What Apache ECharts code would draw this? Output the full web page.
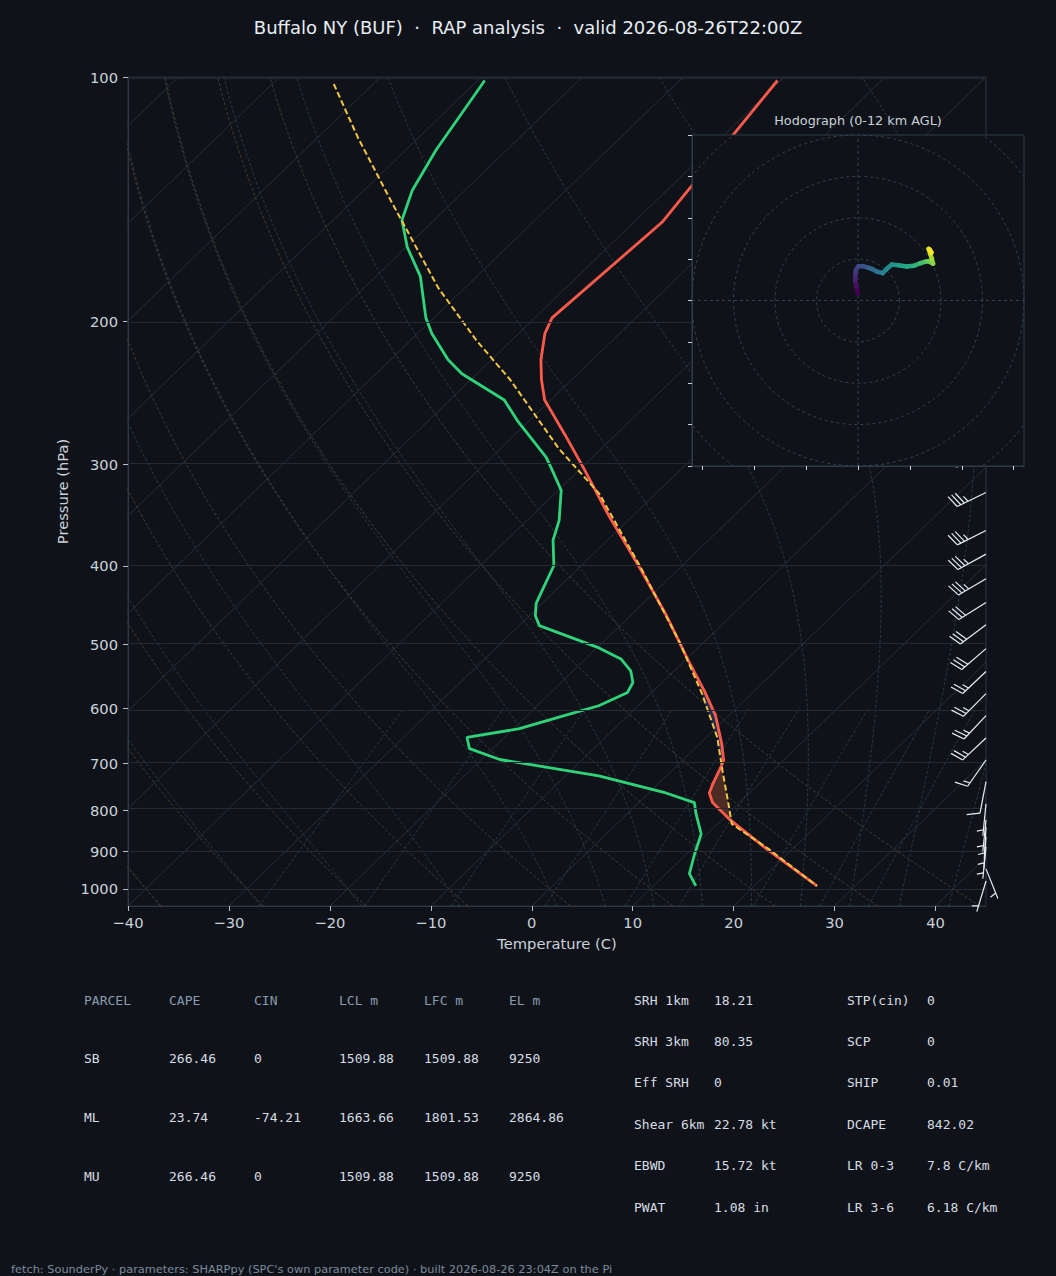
<!DOCTYPE html>
<html lang="en">
<head>
    <meta charset="utf-8">
    <title>Buffalo NY (BUF) RAP sounding</title>
    <style>
        html, body { margin: 0; padding: 0; background: #0f1319; }
        #chart { width: 1056px; height: 1276px; }
    </style>
    <script src="https://cdn.jsdelivr.net/npm/echarts@6/dist/echarts.min.js"></script>
</head>
<body>
    <div id="chart"></div>
    <script type="text/javascript">
        // pressure tick labels (hPa)
        var P_TICKS = [100, 200, 300, 400, 500, 600, 700, 800, 900, 1000];

        // environmental temperature (C)
        var TEMP_P = [101, 151, 198, 207, 223, 236, 250, 276, 303, 347, 400, 461, 524, 570, 612, 663, 695, 705, 742, 762, 783, 820, 893, 992];
        var TEMP_T = [-60.3, -57.2, -58.3, -57.4, -55.1, -53.0, -50.6, -45.0, -39.8, -32.4, -24.3, -16.4, -9.6, -5.0, -1.3, 2.2, 4.1, 4.4, 5.4, 6.0, 7.3, 10.6, 17.4, 26.2];

        // dewpoint (C)
        var DEW_P = [101, 123, 138, 150, 162, 176, 198, 207, 223, 232, 250, 265, 294, 303, 323, 352, 372, 400, 423, 445, 461, 474, 505, 521, 539, 557, 573, 595, 612, 635, 651, 672, 693, 726, 762, 783, 808, 856, 906, 958, 992];
        var DEW_T = [-89.3, -87.0, -85.2, -83.2, -79.9, -75.6, -70.8, -68.6, -64.3, -61.5, -54.6, -51.2, -44.6, -43.0, -39.7, -36.8, -35.4, -32.7, -31.6, -30.6, -29.4, -28.0, -19.8, -16.5, -14.3, -12.9, -12.4, -13.9, -16.3, -19.4, -23.7, -22.3, -18.2, -6.7, 1.7, 5.5, 6.8, 9.4, 10.8, 12.3, 14.2];

        // surface parcel (C)
        var PARCEL_P = [102, 119, 143, 182, 211, 236, 287, 326, 405, 495, 575, 651, 715, 795, 832, 893, 992];
        var PARCEL_T = [-103.9, -95.9, -85.9, -72.6, -63.5, -56.1, -44.2, -35.6, -23.5, -12.6, -4.9, 1.1, 5.0, 9.5, 11.4, 17.6, 26.2];

        // wind barbs (kt)
        var WIND_P = [292, 325, 362, 387, 415, 444, 473, 506, 540, 575, 612, 652, 694, 738, 786, 822, 839, 863, 888, 945, 978];
        var WIND_U = [36, 31, 30, 29, 29, 27, 24, 22, 18, 17, 16, 17, 8.6, 2, 0.5, 0.5, 0.3, 0.4, 0.5, -2, 1.5];
        var WIND_V = [15, 15, 15, 16, 17, 17, 18, 19, 17, 17, 17, 16, 12.3, 10.5, 5, 5, 5.5, 6, 5, 5, 5];

        // hodograph 0-12 km (kt)
        var HODO_U = [-0.1, -0.8, -1.4, -1.3, -1.1, 0.2, 2.5, 4.8, 6.6, 9.0, 11.9, 13.8, 16.3, 19.5, 23.5, 27.0, 30.0, 32.5, 34.0, 36.2, 35.6, 34.8, 34.0, 35.4, 34.6];
        var HODO_V = [3.2, 6.4, 9.7, 12.2, 14.5, 16.6, 16.6, 15.9, 15.3, 14.0, 13.2, 15.2, 17.4, 17.0, 16.4, 16.8, 18.0, 18.8, 19.0, 17.8, 20.2, 22.6, 25.0, 23.2, 24.6];
        var HODO_RINGS = [20, 40, 60, 80, 100];

        // reference lines
        var DRY_T0 = [-40, -30, -20, -10, 0, 10, 20, 30, 40];
        var MOIST_T0 = [-40, -30, -20, -10, 0, 5, 10, 15, 20, 25, 30, 35, 40, 45];
        var MIX_W = [0.0004, 0.001, 0.002, 0.004, 0.007, 0.01, 0.016, 0.024, 0.032];

        // parameter tables
        var PARCEL_HEAD = ["PARCEL", "CAPE", "CIN", "LCL m", "LFC m", "EL m"];
        var PARCEL_ROWS = [
            ["SB", "266.46", "0", "1509.88", "1509.88", "9250"],
            ["ML", "23.74", "-74.21", "1663.66", "1801.53", "2864.86"],
            ["MU", "266.46", "0", "1509.88", "1509.88", "9250"]
        ];
        var PARAM_LEFT = [["SRH 1km", "18.21"], ["SRH 3km", "80.35"], ["Eff SRH", "0"], ["Shear 6km", "22.78 kt"], ["EBWD", "15.72 kt"], ["PWAT", "1.08 in"]];
        var PARAM_RIGHT = [["STP(cin)", "0"], ["SCP", "0"], ["SHIP", "0.01"], ["DCAPE", "842.02"], ["LR 0-3", "7.8 C/km"], ["LR 3-6", "6.18 C/km"]];

        var BG = "#0f1319";
        var SANS = "'DejaVu Sans', sans-serif";
        var MONO = "'DejaVu Sans Mono', monospace";

        //skew-T transform
        var P_BOT = 1050, P_TOP = 100;
        var SKEW = 85 / Math.log(P_BOT / P_TOP);
        function pt(t, p) { return [t + SKEW * Math.log(P_BOT / p), Math.log(p)]; }
        function profile(ps, ts) { return ps.map(function (p, i) { return pt(ts[i], p); }); }

        var PS = [];
        for (var i = 0; i <= 60; i++) PS.push(P_BOT * Math.pow(P_TOP / P_BOT, i / 60));

        function esat(tk) { var tc = tk - 273.15; return 6.112 * Math.exp(17.67 * tc / (tc + 243.5)); }
        function dTdp(p, T) {
            var es = esat(T), rs = 0.622 * es / (p - es);
            return (287.04 * T + 2.501e6 * rs) / p / (1005.7 + 2.501e6 * 2.501e6 * rs * 0.622 / (287.04 * T * T));
        }
        function rk(p, T, p2) {
            var n = 10, h = (p2 - p) / n;
            for (var k = 0; k < n; k++) {
                var k1 = dTdp(p, T), k2 = dTdp(p + h / 2, T + h * k1 / 2), k3 = dTdp(p + h / 2, T + h * k2 / 2), k4 = dTdp(p + h, T + h * k3);
                T += h * (k1 + 2 * k2 + 2 * k3 + k4) / 6; p += h;
            }
            return T;
        }
        function moistLine(t0) {
            var T = rk(1000, t0 + 273.15, PS[0]), out = [pt(T - 273.15, PS[0])];
            for (var j = 1; j < PS.length; j++) { T = rk(PS[j - 1], T, PS[j]); out.push(pt(T - 273.15, PS[j])); }
            return out;
        }

        function interpT(ps, ts, p) {
            for (var k = 0; k < ps.length - 1; k++) {
                var a = ps[k], b = ps[k + 1];
                if (p >= a && p <= b) return ts[k] + Math.log(p / a) / Math.log(b / a) * (ts[k + 1] - ts[k]);
            }
            return null;
        }
        function fillPoly(pTop, pBot) {
            var lv = [pTop, pBot];
            TEMP_P.concat(PARCEL_P).forEach(function (p) { if (p > pTop && p < pBot) lv.push(p); });
            lv.sort(function (a, b) { return a - b; });
            var a = lv.map(function (p) { return pt(interpT(PARCEL_P, PARCEL_T, p), p); });
            var b = lv.slice().reverse().map(function (p) { return pt(interpT(TEMP_P, TEMP_T, p), p); });
            return a.concat(b);
        }

        var series = [];
        function bgLine(pts, color, dash, extra) {
            var s = { type: "line", xAxisIndex: 0, yAxisIndex: 0, data: pts, symbol: "none", silent: true, z: 1,
                lineStyle: { color: color, width: 1, type: dash } };
            if (extra) for (var k in extra) s[k] = extra[k];
            series.push(s);
        }
        //等温线 + 等压线
        var first = true;
        for (var t = -120; t <= 40; t += 10) {
            bgLine([pt(t, P_BOT), pt(t, P_TOP)], "#262f3a", "solid", first ? {
                markLine: { silent: true, symbol: ["none", "none"], label: { show: false },
                    lineStyle: { color: "#222a34", type: "solid", width: 1 },
                    data: P_TICKS.map(function (p) { return { yAxis: Math.log(p) }; }) }
            } : null);
            first = false;
        }
        DRY_T0.forEach(function (t0) {
            bgLine(PS.map(function (p) { return pt((t0 + 273.15) * Math.pow(p / 1000, 0.2857) - 273.15, p); }), "#463b2d", [3, 2]);
        });
        MOIST_T0.forEach(function (t0) { bgLine(moistLine(t0), "#283844", [3, 2]); });
        MIX_W.forEach(function (w) {
            var pts = [];
            for (var p = P_BOT; p >= 600; p -= 45) {
                var e = p * w / (0.622 + w), l = Math.log(e / 6.112);
                pts.push(pt(243.5 * l / (17.67 - l), p));
            }
            bgLine(pts, "#283844", [3, 2]);
        });

        function polySeries(poly, color) {
            series.push({ type: "custom", xAxisIndex: 0, yAxisIndex: 0, silent: true, z: 2, data: [poly[0]],
                renderItem: function (params, api) {
                    return { type: "polygon", shape: { points: poly.map(function (d) { return api.coord(d); }) }, style: { fill: color } };
                } });
        }
        polySeries(fillPoly(705, 832), "#4d2c25");
        polySeries(fillPoly(575, 705), "#1f2d52");

        series.push({ type: "line", name: "Temperature", data: profile(TEMP_P, TEMP_T), symbol: "none", z: 3,
            lineStyle: { color: "#ff5a4b", width: 2.8 } });
        series.push({ type: "line", name: "Dewpoint", data: profile(DEW_P, DEW_T), symbol: "none", z: 3,
            lineStyle: { color: "#2fd47a", width: 2.8 } });
        series.push({ type: "line", name: "Parcel", data: profile(PARCEL_P, PARCEL_T), symbol: "none", z: 4,
            lineStyle: { color: "#f4c542", width: 2, type: [6, 3] } });

        //风羽
        function barb(cx, cy, u, v) {
            var L = 32, H = 0.4 * L, W = 0.25 * L, S = 0.125 * L;
            var mag = Math.sqrt(u * u + v * v), spd = 5 * Math.round(mag / 5);
            var dx = -u / mag, dy = v / mag, px = -dy, py = dx;
            function P(o, h) { return [cx + o * dx + h * px, cy + o * dy + h * py]; }
            var st = { stroke: "#e6edf3", lineWidth: 1.2, fill: null };
            var kids = [{ type: "polyline", shape: { points: [P(0, 0), P(L, 0)] }, style: st }];
            var nflag = Math.floor(spd / 50), rest = spd - 50 * nflag;
            var nfull = Math.floor(rest / 10), half = rest - 10 * nfull >= 5;
            var off = L;
            for (var f = 0; f < nflag; f++) {
                if (off != L) off -= S / 2;
                kids.push({ type: "polygon", shape: { points: [P(off, 0), P(off - W / 2, H), P(off - W, 0)] }, style: { fill: "#e6edf3" } });
                off -= W + S;
            }
            for (var b = 0; b < nfull; b++) {
                kids.push({ type: "polyline", shape: { points: [P(off, 0), P(off + W / 2, H)] }, style: st });
                off -= S;
            }
            if (half) {
                if (off == L) off -= 1.5 * S;
                kids.push({ type: "polyline", shape: { points: [P(off, 0), P(off + W / 4, H / 2)] }, style: st });
            }
            return { type: "group", children: kids };
        }
        series.push({ type: "custom", xAxisIndex: 0, yAxisIndex: 0, silent: true, z: 5,
            data: WIND_P.map(function (p, k) { return [45, Math.log(p), WIND_U[k], WIND_V[k]]; }),
            encode: { x: 0, y: 1 },
            renderItem: function (params, api) {
                var c = api.coord([api.value(0), api.value(1)]);
                return barb(c[0], c[1], api.value(2), api.value(3));
            } });

        // hodograph inset
        series.push({ type: "custom", xAxisIndex: 1, yAxisIndex: 1, silent: true, z: 20, data: [[0, 0]],
            renderItem: function (params, api) {
                var a = api.coord([-80, 80]), b = api.coord([80, -80]);
                return { type: "rect", shape: { x: a[0], y: a[1], width: b[0] - a[0], height: b[1] - a[1] },
                    style: { fill: BG, stroke: "#2e3a48", lineWidth: 1 } };
            } });
        HODO_RINGS.forEach(function (r) {
            var pts = [];
            for (var k = 0; k <= 120; k++) pts.push([r * Math.cos(k * Math.PI / 60), r * Math.sin(k * Math.PI / 60)]);
            series.push({ type: "line", xAxisIndex: 1, yAxisIndex: 1, data: pts, symbol: "none", silent: true, z: 21,
                lineStyle: { color: "#344150", width: 1, type: [3, 3] } });
        });
        series.push({ type: "line", xAxisIndex: 1, yAxisIndex: 1, data: [[-80, 0], [80, 0]], symbol: "none", silent: true, z: 21,
            lineStyle: { color: "#344150", width: 1, type: [3, 3] } });
        series.push({ type: "line", xAxisIndex: 1, yAxisIndex: 1, data: [[0, -80], [0, 80]], symbol: "none", silent: true, z: 21,
            lineStyle: { color: "#344150", width: 1, type: [3, 3] } });

        var VIRIDIS = [[68, 1, 84], [72, 40, 120], [62, 74, 137], [49, 104, 142], [38, 130, 142], [31, 158, 137], [53, 183, 121], [110, 206, 88], [181, 222, 43], [253, 231, 37]];
        function viridis(f) {
            var x = f * (VIRIDIS.length - 1), k = Math.min(Math.floor(x), VIRIDIS.length - 2), r = x - k;
            var c = VIRIDIS[k].map(function (v, j) { return Math.round(v + r * (VIRIDIS[k + 1][j] - v)); });
            return "rgb(" + c.join(",") + ")";
        }
        series.push({ type: "custom", xAxisIndex: 1, yAxisIndex: 1, silent: true, z: 23,
            data: HODO_U.map(function (u, k) { return [u, HODO_V[k]]; }),
            encode: { x: 0, y: 1 },
            renderItem: function (params, api) {
                var k = params.dataIndex;
                if (k >= HODO_U.length - 1) return null;
                var a = api.coord([HODO_U[k], HODO_V[k]]), b = api.coord([HODO_U[k + 1], HODO_V[k + 1]]);
                return { type: "line", shape: { x1: a[0], y1: a[1], x2: b[0], y2: b[1] },
                    style: { stroke: viridis(k / (HODO_U.length - 2)), lineWidth: 4.5, lineCap: "round" } };
            } });

        //文字
        var graphics = [];
        function txt(x, y, s, color, font, align) {
            graphics.push({ type: "text", x: x, y: y, silent: true, z: 30,
                style: { text: s, fill: color, font: font, textAlign: align || "left", textVerticalAlign: "middle", verticalAlign: "middle" } });
        }
        txt(528, 27, "Buffalo NY (BUF)  \u00b7  RAP analysis  \u00b7  valid 2026-08-26T22:00Z", "#e6edf3", "18px " + SANS, "center");
        txt(858, 120, "Hodograph (0-12 km AGL)", "#c9d1d9", "12.8px " + SANS, "center");
        var COLX = [84, 169, 254, 339, 424, 509];
        PARCEL_HEAD.forEach(function (h, k) { txt(COLX[k], 1000, h, "#8a9bb0", "13px " + MONO); });
        PARCEL_ROWS.forEach(function (row, r) {
            row.forEach(function (c, k) { txt(COLX[k], 1058.5 + r * 59, c, "#d6dce3", "13px " + MONO); });
        });
        PARAM_LEFT.forEach(function (row, r) {
            txt(634, 1000 + r * 41.4, row[0], "#d6dce3", "13px " + MONO);
            txt(714, 1000 + r * 41.4, row[1], "#d6dce3", "13px " + MONO);
        });
        PARAM_RIGHT.forEach(function (row, r) {
            txt(847, 1000 + r * 41.4, row[0], "#d6dce3", "13px " + MONO);
            txt(927, 1000 + r * 41.4, row[1], "#d6dce3", "13px " + MONO);
        });
        txt(11, 1269, "fetch: SounderPy \u00b7 parameters: SHARPpy (SPC's own parameter code) \u00b7 built 2026-08-26 23:04Z on the Pi", "#7b8a9b", "11.35px " + SANS);

        var axisLine = { show: true, onZero: false, lineStyle: { color: "#2e3845", width: 1 } };
        var option = {
            backgroundColor: BG,
            animation: false,
            textStyle: { fontFamily: SANS },
            grid: [
                { left: 128, top: 77, width: 858, height: 829, show: true, borderColor: "#2b3543", borderWidth: 1, backgroundColor: "transparent" },
                { left: 692, top: 135, width: 332, height: 331, show: false }
            ],
            xAxis: [
                { type: "value", gridIndex: 0, min: -40, max: 45, interval: 10,
                    name: "Temperature (C)", nameLocation: "middle", nameGap: 30,
                    nameTextStyle: { color: "#c9d1d9", fontSize: 14.7, fontFamily: SANS },
                    axisLine: axisLine,
                    axisTick: { show: true, length: 5, lineStyle: { color: "#b8c1cb" } },
                    axisLabel: { color: "#c9d1d9", fontSize: 14.7, margin: 9, fontFamily: SANS, showMaxLabel: false,
                        formatter: function (v) { return String(v).replace("-", "\u2212"); } },
                    splitLine: { show: false } },
                { type: "value", gridIndex: 1, min: -80, max: 80, z: 25,
                    axisLine: { show: true, onZero: false, lineStyle: { color: "#2e3a48" } },
                    axisTick: { show: true, length: 4, customValues: [-75, -50, -25, 0, 25, 50, 75], lineStyle: { color: "#c9d1d9" } },
                    axisLabel: { show: false }, splitLine: { show: false } }
            ],
            yAxis: [
                { type: "value", gridIndex: 0, inverse: true, min: Math.log(P_TOP), max: Math.log(P_BOT),
                    name: "Pressure (hPa)", nameLocation: "middle", nameGap: 58, nameRotate: 90,
                    nameTextStyle: { color: "#c9d1d9", fontSize: 14.7, fontFamily: SANS },
                    axisLine: axisLine,
                    axisTick: { show: true, length: 5, customValues: P_TICKS.map(Math.log), lineStyle: { color: "#b8c1cb" } },
                    axisLabel: { color: "#c9d1d9", fontSize: 14.7, margin: 10, fontFamily: SANS,
                        customValues: P_TICKS.map(Math.log),
                        formatter: function (v) { return String(Math.round(Math.exp(v))); } },
                    splitLine: { show: false } },
                { type: "value", gridIndex: 1, min: -80, max: 80, interval: 20, z: 25,
                    axisLine: { show: true, onZero: false, lineStyle: { color: "#2e3a48" } },
                    axisTick: { show: true, length: 4, lineStyle: { color: "#c9d1d9" } },
                    axisLabel: { show: false }, splitLine: { show: false } }
            ],
            graphic: graphics,
            series: series
        };

        var chart = echarts.init(document.getElementById("chart"), null, { renderer: "svg", width: 1056, height: 1276 });
        chart.setOption(option);
    </script>
</body>
</html>
